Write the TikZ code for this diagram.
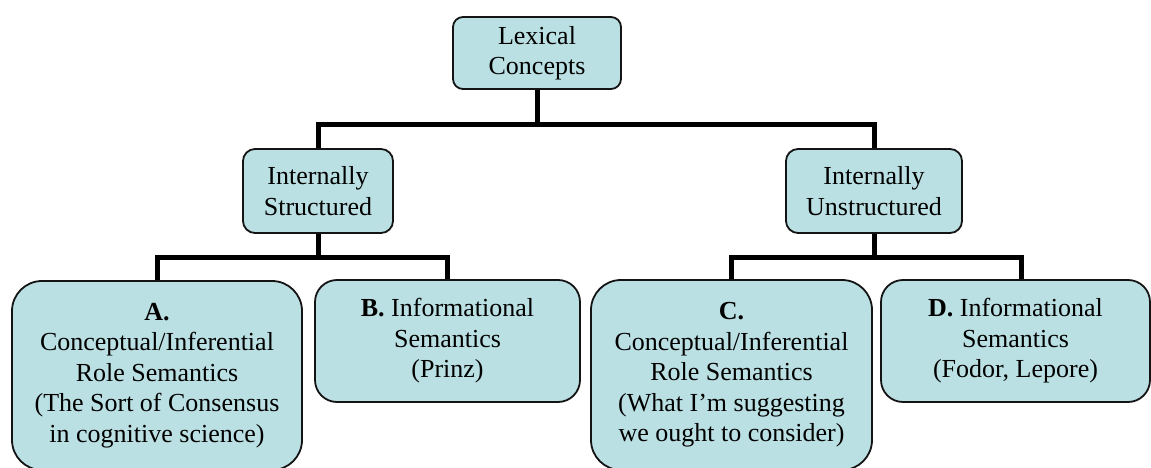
\documentclass[tikz,border=0pt]{standalone}
\usepackage{fontspec}
\setmainfont{Liberation Serif}
\definecolor{boxfill}{RGB}{187,224,227}
\definecolor{boxline}{RGB}{20,20,20}
\tikzset{
  cbox/.style={draw=boxline, line width=1.8pt, fill=boxfill, align=center,
    inner sep=0pt, font=\fontsize{26pt}{30.5pt}\selectfont, text=black},
  link/.style={line width=5pt, draw=black, line join=miter}
}
\begin{document}
\begin{tikzpicture}[x=1pt,y=-1pt]
\useasboundingbox (0,0) rectangle (1151,468);
\begin{scope}
\clip (0,0) rectangle (1151,468);
\node[cbox, rounded corners=10pt, minimum width=168pt, minimum height=72pt] (lex) at (537,53) {Lexical\\Concepts};
\node[cbox, rounded corners=12pt, minimum width=150pt, minimum height=84pt] (str) at (318,191) {Internally\\Structured};
\node[cbox, rounded corners=12pt, minimum width=176pt, minimum height=84pt] (uns) at (874,191) {Internally\\Unstructured};
\node[cbox, rounded corners=30pt, minimum width=290pt, minimum height=189pt] (A) at (157,375.5) {\textbf{A.}\\Conceptual/Inferential\\Role Semantics\\(The Sort of Consensus\\in cognitive science)};
\node[cbox, rounded corners=22pt, minimum width=265pt, minimum height=122pt] (B) at (447.5,341) {\textbf{B.} Informational\\Semantics\\(Prinz)};
\node[cbox, rounded corners=30pt, minimum width=281pt, minimum height=190pt] (C) at (731.5,375) {\textbf{C.}\\Conceptual/Inferential\\Role Semantics\\(What I’m suggesting\\we ought to consider)};
\node[cbox, rounded corners=22pt, minimum width=269pt, minimum height=122pt] (D) at (1015.5,341) {\textbf{D.} Informational\\Semantics\\(Fodor, Lepore)};
\end{scope}
\coordinate (j1) at (537,125);
\coordinate (j2) at (318,257);
\coordinate (j3) at (874,257);
\draw[link] (lex.south) -- (j1);
\draw[link] (str.north) |- (j1) -| (uns.north);
\draw[link] (str.south) -- (j2);
\draw[link] (A.north) |- (j2) -| (B.north);
\draw[link] (uns.south) -- (j3);
\draw[link] (C.north) |- (j3) -| ([xshift=5.5pt]D.north);
\end{tikzpicture}
\end{document}
